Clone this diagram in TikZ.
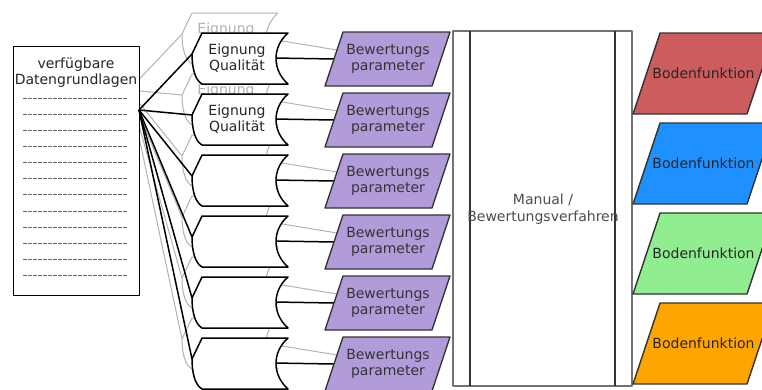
\documentclass[tikz,border=0pt]{standalone}
\usepackage{fontspec}
\setmainfont{DejaVu Sans}
\definecolor{paramc}{RGB}{177,156,217}
\definecolor{fred}{RGB}{205,92,92}
\definecolor{fblue}{RGB}{30,144,255}
\definecolor{fgreen}{RGB}{144,238,144}
\definecolor{forange}{RGB}{255,165,0}
\begin{document}
\begin{tikzpicture}[x=1pt,y=-1pt,line join=round,
  txt/.style={font=\fontsize{14}{16.5}\selectfont, align=center, inner sep=0pt, text=black!85},
  shp/.style={draw=black, line width=1.5pt, fill=white},
  ghostline/.style={draw=black!30, line width=1pt},
  conn/.style={draw=black, line width=1.5pt},
  parambox/.style={draw=black!80, line width=1.4pt, fill=paramc},
  funcbox/.style={draw=black!80, line width=1.4pt},
  dashrow/.style={draw=black!60, line width=1pt, dash pattern=on 4pt off 1pt}]
\useasboundingbox (0,0) rectangle (762,389);
\clip (0,0) rectangle (762,389);
% ---------- coordinates ----------
\coordinate (fan) at (139,110);
\coordinate (gfan) at (129,90);
\foreach \i in {0,...,5}{
  \pgfmathsetmacro\t{33+61*\i}
  \pgfmathsetmacro\p{32+61*\i}
  \coordinate (eL\i) at (192,\t+21);
  \coordinate (eR\i) at (274,\t+25);
  \coordinate (gL\i) at (182,\t+1);
  \coordinate (gR\i) at (264,\t+5);
  \coordinate (pL\i) at (334,\p+27);
  \coordinate (pG\i) at (337,\p+18);
}
% ---------- ghost copy ----------
\foreach \i in {0,...,5}{
  \draw[ghostline] (gfan) -- (gL\i);
  \draw[ghostline] (gR\i) -- (pG\i);
}
\begin{scope}[shift={(-10,-20)}]
\foreach \i in {0,...,5}{
  \pgfmathsetmacro\t{33+61*\i}
  \draw[ghostline, fill=white] (202,\t) -- (288,\t) .. controls (272,\t+14) and (272,\t+37) .. (288,\t+51) -- (202,\t+51) .. controls (195,\t+47) and (192,\t+35) .. (192,\t+21) -- cycle;
}
\node[txt, text=black!30] (g0) at (236,49.75) {Eignung};
\node[txt, text=black!30] (g1) at (236,110.75) {Eignung};
\end{scope}
% ---------- source box ----------
\node[draw, line width=1.4pt, fill=white, minimum width=126.3, minimum height=249, anchor=north west, inner sep=0pt] (src) at (12.7,46) {};
\node[txt] (srct) at (76,72.5) {verfügbare\\Datengrundlagen};
\foreach \yy in {98.5,114.5,130.5,146.5,162.5,178.5,194.5,211.5,227.5,243.5,259.5,275.5}{
  \draw[dashrow] (23,\yy) -- (128,\yy);
}
% ---------- connectors ----------
\foreach \i in {0,...,5}{
  \draw[conn] (fan) -- (eL\i);
  \draw[conn] (eR\i) -- (pL\i);
}
% ---------- Eignung shapes ----------
\foreach \i in {0,...,5}{
  \pgfmathsetmacro\t{33+61*\i}
  \draw[shp] (202,\t) -- (288,\t) .. controls (272,\t+14) and (272,\t+37) .. (288,\t+51) -- (202,\t+51) .. controls (195,\t+47) and (192,\t+35) .. (192,\t+21) -- cycle;
}
\node[txt] (e0) at (237,58) {Eignung\\Qualität};
\node[txt] (e1) at (237,119) {Eignung\\Qualität};
% ---------- parameters ----------
\foreach \i in {0,...,5}{
  \pgfmathsetmacro\p{32+61*\i}
  \draw[parambox] (343,\p) -- (450,\p) -- (432,\p+54) -- (325,\p+54) -- cycle;
  \node[txt, text=black!80] (p\i) at (388,\p+27) {Bewertungs\\parameter};
}
% ---------- manual ----------
\draw[draw=black!55, line width=1.5pt] (453,31) rectangle (632,386);
\draw[draw=black!80, line width=1.4pt] (470,31) -- (470,386);
\draw[draw=black!80, line width=1.4pt] (615,31) -- (615,386);
\node[txt, text=black!70] (man) at (543,209) {Manual /\\Bewertungsverfahren};
% ---------- Bodenfunktionen ----------
\foreach \i/\c in {0/fred,1/fblue,2/fgreen,3/forange}{
  \pgfmathsetmacro\b{33+90*\i}
  \draw[funcbox, fill=\c] (660,\b) -- (774,\b) -- (747,\b+81) -- (633,\b+81) -- cycle;
  \node[txt] (f\i) at (703.5,\b+40.5) {Bodenfunktion};
}
\end{tikzpicture}
\end{document}
